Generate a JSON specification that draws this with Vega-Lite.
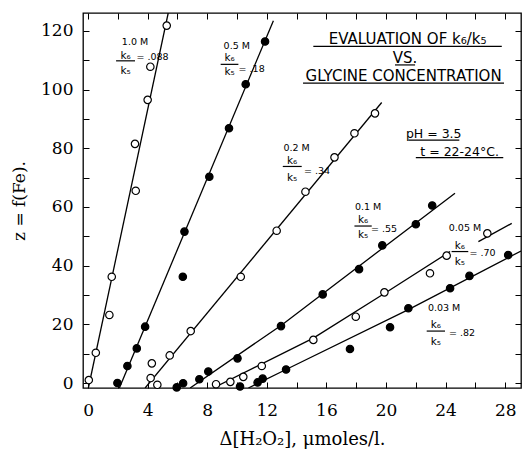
{
  "$schema": "https://vega.github.io/schema/vega-lite/v6.json",
  "width": 438,
  "height": 375,
  "autosize": "none",
  "padding": {"left": 83, "top": 13, "right": 2, "bottom": 65},
  "background": "white",
  "config": {
    "view": {"stroke": "black", "strokeWidth": 1.3},
    "axis": {"grid": false, "domain": false, "tickColor": "black", "tickWidth": 1, "labelColor": "black", "titleColor": "black", "labelFont": "DejaVu Serif", "titleFont": "DejaVu Serif", "labelFontSize": 17, "titleFontSize": 16, "titleFontWeight": "normal"}
  },
  "resolve": {"axis": {"x": "independent", "y": "independent"}},
  "datasets": {
    "points": [
      {"series": "1.0 M", "type": "open", "x": 0.05, "y": 1.0},
      {"series": "1.0 M", "type": "open", "x": 0.52, "y": 10.3},
      {"series": "1.0 M", "type": "open", "x": 1.43, "y": 23.2},
      {"series": "1.0 M", "type": "open", "x": 1.59, "y": 36.2},
      {"series": "1.0 M", "type": "open", "x": 3.2, "y": 65.5},
      {"series": "1.0 M", "type": "open", "x": 3.15, "y": 81.5},
      {"series": "1.0 M", "type": "open", "x": 4.0, "y": 96.5},
      {"series": "1.0 M", "type": "open", "x": 4.18, "y": 107.8},
      {"series": "1.0 M", "type": "open", "x": 5.28, "y": 121.8},
      {"series": "0.5 M", "type": "filled", "x": 1.97, "y": 0.0},
      {"series": "0.5 M", "type": "filled", "x": 2.64, "y": 5.8},
      {"series": "0.5 M", "type": "filled", "x": 3.27, "y": 11.8},
      {"series": "0.5 M", "type": "filled", "x": 3.83, "y": 19.2},
      {"series": "0.5 M", "type": "filled", "x": 6.36, "y": 36.2},
      {"series": "0.5 M", "type": "filled", "x": 6.47, "y": 51.6},
      {"series": "0.5 M", "type": "filled", "x": 8.14, "y": 70.3},
      {"series": "0.5 M", "type": "filled", "x": 9.46, "y": 86.8},
      {"series": "0.5 M", "type": "filled", "x": 10.58, "y": 101.8},
      {"series": "0.5 M", "type": "filled", "x": 11.88, "y": 116.4},
      {"series": "0.2 M", "type": "open", "x": 4.65, "y": -0.6},
      {"series": "0.2 M", "type": "open", "x": 4.2, "y": 1.7},
      {"series": "0.2 M", "type": "open", "x": 4.28, "y": 6.7},
      {"series": "0.2 M", "type": "open", "x": 5.48, "y": 9.4},
      {"series": "0.2 M", "type": "open", "x": 6.89, "y": 17.7},
      {"series": "0.2 M", "type": "open", "x": 10.25, "y": 36.2},
      {"series": "0.2 M", "type": "open", "x": 12.66, "y": 51.9},
      {"series": "0.2 M", "type": "open", "x": 14.59, "y": 65.2},
      {"series": "0.2 M", "type": "open", "x": 16.54, "y": 76.9},
      {"series": "0.2 M", "type": "open", "x": 17.88, "y": 85.1},
      {"series": "0.2 M", "type": "open", "x": 19.26, "y": 91.9},
      {"series": "0.1 M", "type": "filled", "x": 5.95, "y": -1.5},
      {"series": "0.1 M", "type": "filled", "x": 6.38, "y": -0.1},
      {"series": "0.1 M", "type": "filled", "x": 7.47, "y": 1.3},
      {"series": "0.1 M", "type": "filled", "x": 8.07, "y": 3.9},
      {"series": "0.1 M", "type": "filled", "x": 10.03, "y": 8.4},
      {"series": "0.1 M", "type": "filled", "x": 12.95, "y": 19.4},
      {"series": "0.1 M", "type": "filled", "x": 15.75, "y": 30.2},
      {"series": "0.1 M", "type": "filled", "x": 18.19, "y": 38.8},
      {"series": "0.1 M", "type": "filled", "x": 19.75, "y": 46.9},
      {"series": "0.1 M", "type": "filled", "x": 22.0, "y": 54.1},
      {"series": "0.1 M", "type": "filled", "x": 23.1, "y": 60.5},
      {"series": "0.05 M", "type": "open", "x": 8.59, "y": -0.4},
      {"series": "0.05 M", "type": "open", "x": 9.55, "y": 0.4},
      {"series": "0.05 M", "type": "open", "x": 10.42, "y": 2.1},
      {"series": "0.05 M", "type": "open", "x": 11.66, "y": 5.8},
      {"series": "0.05 M", "type": "open", "x": 15.12, "y": 14.7},
      {"series": "0.05 M", "type": "open", "x": 17.97, "y": 22.6},
      {"series": "0.05 M", "type": "open", "x": 19.89, "y": 30.9},
      {"series": "0.05 M", "type": "open", "x": 22.95, "y": 37.4},
      {"series": "0.05 M", "type": "open", "x": 24.07, "y": 43.4},
      {"series": "0.05 M", "type": "open", "x": 26.8, "y": 51.0},
      {"series": "0.03 M", "type": "filled", "x": 10.2, "y": -1.2},
      {"series": "0.03 M", "type": "filled", "x": 11.38, "y": 0.2},
      {"series": "0.03 M", "type": "filled", "x": 11.72, "y": 1.5},
      {"series": "0.03 M", "type": "filled", "x": 13.29, "y": 4.6},
      {"series": "0.03 M", "type": "filled", "x": 17.58, "y": 11.6},
      {"series": "0.03 M", "type": "filled", "x": 20.27, "y": 19.0},
      {"series": "0.03 M", "type": "filled", "x": 21.5, "y": 25.5},
      {"series": "0.03 M", "type": "filled", "x": 24.3, "y": 32.3},
      {"series": "0.03 M", "type": "filled", "x": 25.6, "y": 36.5},
      {"series": "0.03 M", "type": "filled", "x": 28.2, "y": 43.6}
    ],
    "lines": [
      {"seg": "1.0 M", "x": 0.02, "y": -1.7},
      {"seg": "1.0 M", "x": 5.38, "y": 126.1},
      {"seg": "0.5 M", "x": 2.1, "y": -1.7},
      {"seg": "0.5 M", "x": 12.44, "y": 123.5},
      {"seg": "0.2 M", "x": 3.83, "y": -1.7},
      {"seg": "0.2 M", "x": 19.71, "y": 95.6},
      {"seg": "0.1 M", "x": 6.85, "y": -1.7},
      {"seg": "0.1 M", "x": 13.0, "y": 19.8},
      {"seg": "0.1 M", "x": 24.63, "y": 64.7},
      {"seg": "0.05 M", "x": 8.4, "y": -1.7},
      {"seg": "0.05 M", "x": 15.12, "y": 15.3},
      {"seg": "0.05 M", "x": 19.89, "y": 30.5},
      {"seg": "0.05 M", "x": 24.3, "y": 44.8},
      {"seg": "0.05 M b", "x": 26.2, "y": 48.2},
      {"seg": "0.05 M b", "x": 28.44, "y": 54.4},
      {"seg": "0.03 M", "x": 10.76, "y": -1.7},
      {"seg": "0.03 M", "x": 13.29, "y": 4.6},
      {"seg": "0.03 M", "x": 21.5, "y": 25.0},
      {"seg": "0.03 M", "x": 29.06, "y": 45.0}
    ],
    "rules": [
      {"x": 1.88, "x2": 3.15, "y": 109.8},
      {"x": 8.9, "x2": 10.09, "y": 108.6},
      {"x": 13.07, "x2": 14.34, "y": 73.8},
      {"x": 17.88, "x2": 19.04, "y": 53.5},
      {"x": 24.4, "x2": 25.52, "y": 44.8},
      {"x": 22.73, "x2": 23.96, "y": 17.7},
      {"x": 15.12, "x2": 27.77, "y": 114.7},
      {"x": 20.6, "x2": 21.95, "y": 108.4},
      {"x": 14.43, "x2": 27.92, "y": 102.2},
      {"x": 21.5, "x2": 24.92, "y": 82.8},
      {"x": 22.0, "x2": 27.87, "y": 76.8}
    ],
    "small": [
      {"label": "1.0 M", "x": 3.15, "y": 116.3},
      {"label": "0.5 M", "x": 9.98, "y": 114.8},
      {"label": "0.2 M", "x": 14.0, "y": 80.0},
      {"label": "0.1 M", "x": 18.8, "y": 60.0},
      {"label": "0.05 M", "x": 25.3, "y": 52.9},
      {"label": "0.03 M", "x": 23.9, "y": 25.7},
      {"label": "= .088", "x": 4.33, "y": 111.0},
      {"label": "= .18", "x": 10.98, "y": 107.0},
      {"label": "= .34", "x": 15.37, "y": 72.3},
      {"label": "= .55", "x": 19.87, "y": 52.4},
      {"label": "= .70", "x": 26.48, "y": 44.4},
      {"label": "= .82", "x": 25.1, "y": 17.1}
    ],
    "kk": [
      {"label": "k₆", "x": 2.52, "y": 111.6},
      {"label": "k₅", "x": 2.52, "y": 106.4},
      {"label": "k₆", "x": 9.5, "y": 110.6},
      {"label": "k₅", "x": 9.5, "y": 106.0},
      {"label": "k₆", "x": 13.7, "y": 75.8},
      {"label": "k₅", "x": 13.7, "y": 70.0},
      {"label": "k₆", "x": 18.46, "y": 55.7},
      {"label": "k₅", "x": 18.46, "y": 50.5},
      {"label": "k₆", "x": 24.96, "y": 46.8},
      {"label": "k₅", "x": 24.96, "y": 41.4},
      {"label": "k₆", "x": 23.35, "y": 19.7},
      {"label": "k₅", "x": 23.35, "y": 14.0}
    ],
    "titles": [
      {"label": "EVALUATION  OF  k₆/k₅", "x": 21.45, "y": 115.4},
      {"label": "VS.", "x": 21.28, "y": 109.0},
      {"label": "GLYCINE CONCENTRATION", "x": 21.18, "y": 102.9}
    ],
    "ph": [
      {"label": "pH = 3.5", "x": 23.2, "y": 83.4},
      {"label": "t = 22-24°C.", "x": 24.94, "y": 77.4}
    ]
  },
  "layer": [
    {
      "data": {"name": "lines"},
      "mark": {"type": "line", "color": "black", "strokeWidth": 1.3, "clip": true},
      "encoding": {
        "x": {"field": "x", "type": "quantitative", "scale": {"domain": [-0.34, 29.06], "nice": false, "zero": false},
          "axis": {"orient": "bottom", "title": "Δ[H₂O₂], μmoles/l.", "titleFontSize": 18, "values": [0, 2, 4, 6, 8, 10, 12, 14, 16, 18, 20, 22, 24, 26, 28], "labelExpr": "datum.value % 4 == 0 ? datum.label : ''", "tickSize": -6, "labelPadding": 20, "titlePadding": 12}},
        "y": {"field": "y", "type": "quantitative", "scale": {"domain": [-1.7, 126.1], "nice": false, "zero": false},
          "axis": {"orient": "left", "title": "z = f(Fe).", "values": [0, 10, 20, 30, 40, 50, 60, 70, 80, 90, 100, 110, 120], "labelExpr": "datum.value % 20 == 0 ? datum.label : ''", "tickSize": -6, "labelPadding": 16, "titlePadding": 12, "titleFontSize": 17}},
        "detail": {"field": "seg", "type": "nominal"}
      }
    },
    {
      "data": {"name": "lines"},
      "mark": {"type": "line", "opacity": 0},
      "encoding": {
        "x": {"field": "x", "type": "quantitative", "axis": {"orient": "top", "title": null, "labels": false, "values": [0, 2, 4, 6, 8, 10, 12, 14, 16, 18, 20, 22, 24, 26, 28], "tickSize": -6}},
        "y": {"field": "y", "type": "quantitative", "axis": {"orient": "right", "title": null, "labels": false, "values": [0, 10, 20, 30, 40, 50, 60, 70, 80, 90, 100, 110, 120], "tickSize": -6}},
        "detail": {"field": "seg", "type": "nominal"}
      }
    },
    {
      "data": {"name": "rules"},
      "mark": {"type": "rule", "color": "black", "strokeWidth": 1.2},
      "encoding": {
        "x": {"field": "x", "type": "quantitative", "axis": null},
        "x2": {"field": "x2"},
        "y": {"field": "y", "type": "quantitative", "axis": null}
      }
    },
    {
      "data": {"name": "points"},
      "mark": {"type": "point", "shape": "circle", "filled": true, "size": 55, "stroke": "black", "strokeWidth": 1.2, "opacity": 1},
      "encoding": {
        "x": {"field": "x", "type": "quantitative", "axis": null},
        "y": {"field": "y", "type": "quantitative", "axis": null},
        "fill": {"field": "type", "type": "nominal", "scale": {"domain": ["open", "filled"], "range": ["white", "black"]}, "legend": null}
      }
    },
    {
      "data": {"name": "small"},
      "mark": {"type": "text", "font": "DejaVu Sans", "fontSize": 9.5, "baseline": "middle", "align": "center", "color": "black"},
      "encoding": {
        "x": {"field": "x", "type": "quantitative", "axis": null},
        "y": {"field": "y", "type": "quantitative", "axis": null},
        "text": {"field": "label"}
      }
    },
    {
      "data": {"name": "kk"},
      "mark": {"type": "text", "font": "DejaVu Sans", "fontSize": 10.5, "baseline": "middle", "align": "center", "color": "black"},
      "encoding": {
        "x": {"field": "x", "type": "quantitative", "axis": null},
        "y": {"field": "y", "type": "quantitative", "axis": null},
        "text": {"field": "label"}
      }
    },
    {
      "data": {"name": "titles"},
      "mark": {"type": "text", "font": "DejaVu Sans", "fontSize": 15, "baseline": "alphabetic", "align": "center", "color": "black"},
      "encoding": {
        "x": {"field": "x", "type": "quantitative", "axis": null},
        "y": {"field": "y", "type": "quantitative", "axis": null},
        "text": {"field": "label"}
      }
    },
    {
      "data": {"name": "ph"},
      "mark": {"type": "text", "font": "DejaVu Sans", "fontSize": 12.5, "baseline": "alphabetic", "align": "center", "color": "black"},
      "encoding": {
        "x": {"field": "x", "type": "quantitative", "axis": null},
        "y": {"field": "y", "type": "quantitative", "axis": null},
        "text": {"field": "label"}
      }
    }
  ]
}
